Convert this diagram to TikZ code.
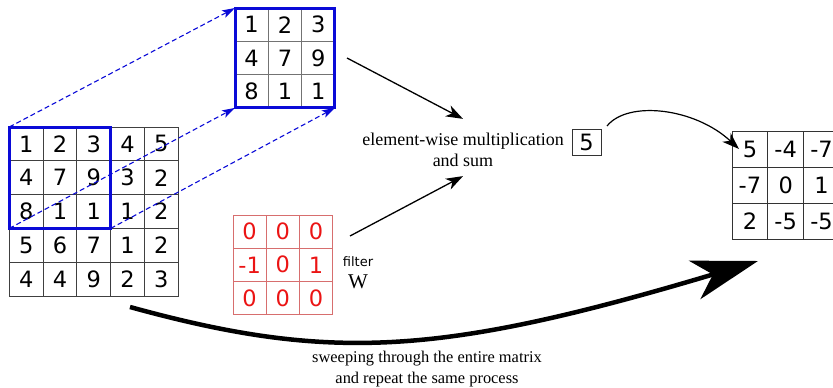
\documentclass[tikz,border=0pt]{standalone}
\usepackage{fontspec}
\setmainfont{Liberation Serif}
\newfontfamily\dejavu{DejaVu Sans}
\usetikzlibrary{arrows.meta}
\definecolor{myblue}{RGB}{10,10,215}
\definecolor{myred}{RGB}{235,20,20}
\definecolor{mypink}{RGB}{215,110,110}
\begin{document}
\begin{tikzpicture}[x=1pt,y=-1pt,
  num/.style={font=\dejavu\fontsize{22.5}{22.5}\selectfont},
  bcell/.style={draw=black!75, line width=1pt, minimum width=33.8pt, minimum height=33.8pt, inner sep=0pt, outer sep=0pt, num},
  pcell/.style={draw=black!55, line width=0.8pt, minimum width=33.3pt, minimum height=33.3pt, inner sep=0pt, outer sep=0pt, num},
  fcell/.style={draw=mypink, line width=0.9pt, minimum width=33.2pt, minimum height=33.2pt, inner sep=0pt, outer sep=0pt, num, text=myred},
  ocell/.style={draw=black!80, line width=1pt, minimum width=35.8pt, minimum height=36pt, inner sep=0pt, outer sep=0pt, num},
  frame/.style={draw=myblue, line width=3pt, inner sep=0pt, outer sep=0pt, minimum size=#1},
  dasharrow/.style={draw=myblue, line width=1.1pt, dash pattern=on 5pt off 3pt, -{Stealth[length=13pt,width=8pt,inset=3pt]}},
  thinarrow/.style={line width=1.3pt, -{Stealth[length=17pt,width=12pt,inset=5pt]}},
  bigarrow/.style={line width=4.5pt, -{Stealth[length=66pt,width=40pt,inset=19pt]}}]
\useasboundingbox (0,0) rectangle (833,388);
\clip (0,0) rectangle (833,388);
% big input matrix
\foreach \row [count=\r] in {{1,2,3,4,5},{4,7,9,3,2},{8,1,1,1,2},{5,6,7,1,2},{4,4,9,2,3}}
  \foreach \v [count=\c] in \row
    \node[bcell] (m-\r-\c) at ({9.3+33.8*(\c-0.5)},{127+33.8*(\r-0.5)}) {\v};
\node[frame=101.4pt] (win) at (m-2-2) {};
% extracted patch
\foreach \row [count=\r] in {{1,2,3},{4,7,9},{8,1,1}}
  \foreach \v [count=\c] in \row
    \node[pcell] (p-\r-\c) at ({235+33.3*(\c-0.5)},{8+33.3*(\r-0.5)}) {\v};
\node[frame=99.9pt] (patch) at (p-2-2) {};
% filter
\foreach \row [count=\r] in {{0,0,0},{-1,0,1},{0,0,0}}
  \foreach \v [count=\c] in \row
    \node[fcell] (f-\r-\c) at ({233+33.2*(\c-0.5)},{215+33.2*(\r-0.5)}) {\v};
\node[font=\dejavu\fontsize{13}{13}\selectfont] (flab) at (358,262) {filter};
\node[font=\fontsize{21}{21}\selectfont] (W) at (358,282) {W};
% output matrix
\foreach \row [count=\r] in {{5,-4,-7},{-7,0,1},{2,-5,-5}}
  \foreach \v [count=\c] in \row
    \node[ocell] (o-\r-\c) at ({732+35.8*(\c-0.5)},{131+36*(\r-0.5)}) {\v};
% texts
\node[font=\fontsize{18}{20.5}\selectfont, align=center] (ews) at (463,150) {element-wise multiplication\\and sum};
\node[draw=black!80, line width=0.8pt, minimum width=29pt, minimum height=26pt, inner sep=0pt, num] (five) at (586.5,142) {5};
\node[font=\fontsize{16.4}{21}\selectfont, align=center] (sweep) at (427,369) {sweeping through the entire matrix\\and repeat the same process};
% dashed arrows
\draw[dasharrow] (win.north west) -- (patch.north west);
\draw[dasharrow] (win.south west) -- (patch.south west);
\draw[dasharrow] (win.south east) -- (patch.south east);
% arrows to text
\coordinate (a1) at (347,58);
\coordinate (a2) at (350,236);
\draw[thinarrow] (a1) -- ([yshift=11pt]ews.north);
\draw[thinarrow] (a2) -- ([yshift=-6pt]ews.south);
% curve to output
\coordinate (c1) at (607,126);
\draw[thinarrow, line width=1.2pt] (c1) .. controls (628,100) and (695,108) .. ([xshift=7pt]o-1-1.west);
% big sweep arrow
\coordinate (s1) at (130,307);
\coordinate (s2) at (758,261);
\draw[bigarrow] (s1) .. controls (330,362) and (440,356) .. (s2);
\end{tikzpicture}
\end{document}
